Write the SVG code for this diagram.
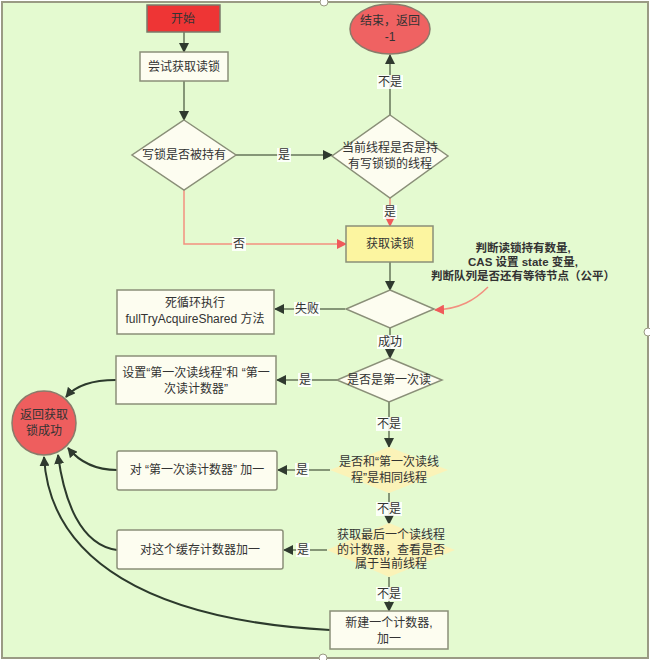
<svg xmlns="http://www.w3.org/2000/svg" width="650" height="660" viewBox="0 0 650 660">
<style>
text{font-family:"Liberation Sans","Noto Sans CJK SC",sans-serif;font-size:12px;fill:#333;text-anchor:middle;dominant-baseline:central}
.box{fill:#fdfdf0;stroke:#8a8f78;stroke-width:1.5}
.dia{fill:#fdfdf0;stroke:#8a8f78;stroke-width:1.5}
.ydia{fill:#fbf3b8;stroke:none}
.e{fill:none;stroke:#66745a;stroke-width:1.5}
.er{fill:none;stroke:#f2907f;stroke-width:1.5}
.c{fill:none;stroke:#2c3a2c;stroke-width:2}
.lb{fill:#ffffff;opacity:0.85}
.ann{font-weight:bold;font-size:11.5px}
</style>
<defs>
<marker id="a" viewBox="0 0 10 10" refX="9" refY="5" markerWidth="10" markerHeight="10" markerUnits="userSpaceOnUse" orient="auto"><path d="M0,0L10,5L0,10z" fill="#2f3a2f"/></marker>
<marker id="r" viewBox="0 0 10 10" refX="9" refY="5" markerWidth="10" markerHeight="10" markerUnits="userSpaceOnUse" orient="auto"><path d="M0,0L10,5L0,10z" fill="#f05a5a"/></marker>
</defs>
<rect x="2" y="2" width="646" height="656" fill="#e4fad0" stroke="#9a9a84" stroke-width="2"/>
<circle cx="324" cy="2" r="4" fill="#fff" stroke="#9a9a84"/>
<circle cx="648" cy="332" r="4" fill="#fff" stroke="#9a9a84"/>
<circle cx="323" cy="658" r="4" fill="#fff" stroke="#9a9a84"/>

<g id="connectors">
<path class="e" d="M184,32V52" marker-end="url(#a)"/>
<path class="e" d="M184,81V120" marker-end="url(#a)"/>
<path class="e" d="M236,155H332" marker-end="url(#a)"/>
<path class="e" d="M390,115V55" marker-end="url(#a)"/>
<path class="er" d="M390,198V226" marker-end="url(#r)"/>
<path class="er" d="M184,190V244H346" marker-end="url(#r)"/>
<path class="e" d="M390,262V290" marker-end="url(#a)"/>
<path class="e" d="M345,309H275" marker-end="url(#a)"/>
<path class="er" d="M488,287C475,300 460,309 435,310" marker-end="url(#r)"/>
<path class="e" d="M390,328V358" marker-end="url(#a)"/>
<path class="e" d="M337,380H277" marker-end="url(#a)"/>
<path class="e" d="M389,402V447" marker-end="url(#a)"/>
<path class="e" d="M330,470H278" marker-end="url(#a)"/>
<path class="e" d="M389,493V524" marker-end="url(#a)"/>
<path class="e" d="M327,550H284" marker-end="url(#a)"/>
<path class="e" d="M389,577V611" marker-end="url(#a)"/>
<path class="c" d="M116,380C92,380 76,385 66,397" marker-end="url(#a)"/>
<path class="c" d="M117,470C92,470 78,460 68,448" marker-end="url(#a)"/>
<path class="c" d="M117,550C80,545 64,500 58,455" marker-end="url(#a)"/>
<path class="c" d="M330,630C150,620 50,560 44,457" marker-end="url(#a)"/>
<rect class="lb" x="277" y="148" width="14" height="14"/><text x="284" y="155">是</text>
<rect class="lb" x="377" y="75" width="26" height="14"/><text x="390" y="82">不是</text>
<rect class="lb" x="383" y="205" width="14" height="14"/><text x="390" y="212">是</text>
<rect class="lb" x="232" y="237" width="14" height="14"/><text x="239" y="244">否</text>
<rect class="lb" x="294" y="302" width="26" height="14"/><text x="307" y="309">失败</text>
<rect class="lb" x="377" y="335" width="26" height="14"/><text x="390" y="342">成功</text>
<rect class="lb" x="298" y="373" width="14" height="14"/><text x="305" y="380">是</text>
<rect class="lb" x="376" y="417" width="26" height="14"/><text x="389" y="424">不是</text>
<rect class="lb" x="295" y="463" width="14" height="14"/><text x="302" y="470">是</text>
<rect class="lb" x="376" y="502" width="26" height="14"/><text x="389" y="509">不是</text>
<rect class="lb" x="296" y="543" width="14" height="14"/><text x="303" y="550">是</text>
<rect class="lb" x="376" y="587" width="26" height="14"/><text x="389" y="594">不是</text>
</g>

<g id="start"><rect x="147" y="5" width="73" height="27" fill="#ee3535" stroke="#7a7a6a" stroke-width="1.5"/><text x="183" y="19">开始</text></g>
<g id="try"><rect class="box" x="140" y="52" width="88" height="29"/><text x="184" y="67">尝试获取读锁</text></g>
<g id="d1"><path class="dia" d="M184,120L236,155L184,190L132,155z"/><text x="184" y="155">写锁是否被持有</text></g>
<g id="d2"><path class="dia" d="M390,115L448,156L390,198L332,156z"/><text x="390" y="148">当前线程是否是持</text><text x="390" y="164">有写锁锁的线程</text></g>
<g id="end"><ellipse cx="390" cy="29" rx="40" ry="25" fill="#ef6262" stroke="#8a7a6a" stroke-width="1.5"/><text x="390" y="21">结束，返回</text><text x="390" y="37">-1</text></g>
<g id="get"><rect x="346" y="226" width="87" height="36" fill="#fcf5a0" stroke="#8a8f78" stroke-width="1.5"/><text x="390" y="244">获取读锁</text></g>
<g id="d3"><path class="dia" d="M390,290L434,309L390,328L346,309z"/></g>
<g id="note"><text class="ann" x="523" y="248">判断读锁持有数量,</text><text class="ann" x="523" y="262">CAS 设置 state 变量,</text><text class="ann" x="523" y="276">判断队列是否还有等待节点（公平）</text></g>
<g id="loop"><rect class="box" x="117" y="290" width="157" height="44"/><text x="195" y="303">死循环执行</text><text x="195" y="319">fullTryAcquireShared 方法</text></g>
<g id="d4"><path class="dia" d="M389,358L442,380L389,402L337,380z"/><text x="389" y="380">是否是第一次读</text></g>
<g id="set"><rect class="box" x="116" y="356" width="160" height="48"/><text x="196" y="373">设置“第一次读线程”和 “第一</text><text x="196" y="389">次读计数器”</text></g>
<g id="ok"><circle cx="44" cy="423" r="32" fill="#ee5e5e" stroke="#8a7a6a" stroke-width="1.5"/><text x="44" y="415">返回获取</text><text x="44" y="431">锁成功</text></g>
<g id="d5"><path class="ydia" d="M389,447L448,470L389,493L330,470z"/><text x="389" y="462">是否和“第一次读线</text><text x="389" y="478">程”是相同线程</text></g>
<g id="inc1"><rect class="box" x="117" y="451" width="160" height="39" rx="2"/><text x="197" y="470">对 “第一次读计数器” 加一</text></g>
<g id="d6"><path class="ydia" d="M389,523L455,550L389,577L327,550z"/><text x="391" y="535">获取最后一个读线程</text><text x="391" y="550">的计数器，查看是否</text><text x="391" y="564">属于当前线程</text></g>
<g id="inc2"><rect class="box" x="117" y="530" width="166" height="39" rx="2"/><text x="200" y="550">对这个缓存计数器加一</text></g>
<g id="new"><rect class="box" x="330" y="611" width="118" height="38"/><text x="389" y="623">新建一个计数器,</text><text x="389" y="639">加一</text></g>
</svg>
